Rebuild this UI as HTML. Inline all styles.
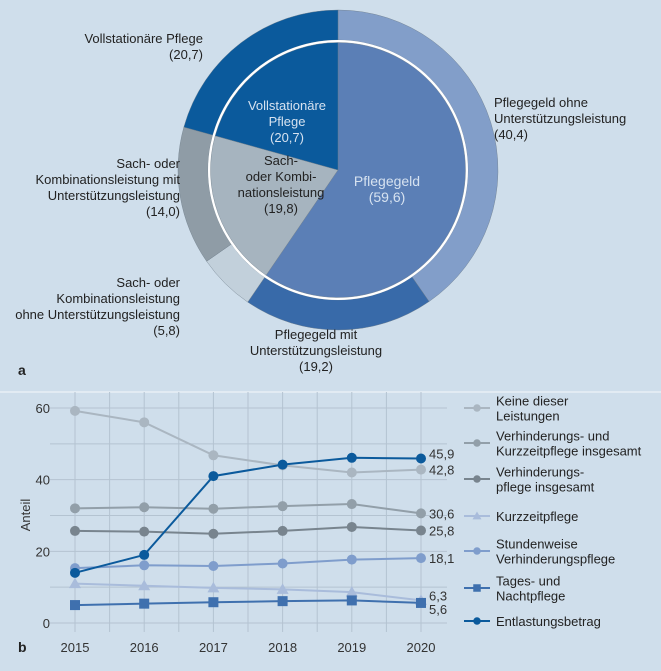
<!DOCTYPE html>
<html><head><meta charset="utf-8"><style>
body{margin:0;background:#cfdeeb;}
svg{display:block;font-family:"Liberation Sans",sans-serif;}
</style></head><body>
<svg width="661" height="671" viewBox="0 0 661 671">
<rect x="0" y="0" width="661" height="671" fill="#cfdeeb"/>
<line x1="0" y1="392" x2="661" y2="392" stroke="#e2ebf3" stroke-width="2"/>
<g id="pie"></g>
<g id="pielabels" font-size="13" fill="#222">
<text x="203" y="43" text-anchor="end">Vollstationäre Pflege</text>
<text x="203" y="59" text-anchor="end">(20,7)</text>
<text x="494" y="107">Pflegegeld ohne</text>
<text x="494" y="123">Unterstützungsleistung</text>
<text x="494" y="139">(40,4)</text>
<text x="180" y="168" text-anchor="end">Sach- oder</text>
<text x="180" y="184" text-anchor="end">Kombinationsleistung mit</text>
<text x="180" y="200" text-anchor="end">Unterstützungsleistung</text>
<text x="180" y="216" text-anchor="end">(14,0)</text>
<text x="180" y="287" text-anchor="end">Sach- oder</text>
<text x="180" y="303" text-anchor="end">Kombinationsleistung</text>
<text x="180" y="319" text-anchor="end">ohne Unterstützungsleistung</text>
<text x="180" y="335" text-anchor="end">(5,8)</text>
<text x="316" y="339" text-anchor="middle">Pflegegeld mit</text>
<text x="316" y="355" text-anchor="middle">Unterstützungsleistung</text>
<text x="316" y="371" text-anchor="middle">(19,2)</text>
<text x="287" y="110" text-anchor="middle" fill="#d6e2f0">Vollstationäre</text>
<text x="287" y="126" text-anchor="middle" fill="#d6e2f0">Pflege</text>
<text x="287" y="142" text-anchor="middle" fill="#d6e2f0">(20,7)</text>
<text x="281" y="165" text-anchor="middle">Sach-</text>
<text x="281" y="181" text-anchor="middle">oder Kombi-</text>
<text x="281" y="197" text-anchor="middle">nationsleistung</text>
<text x="281" y="213" text-anchor="middle">(19,8)</text>
<text x="387" y="186" text-anchor="middle" fill="#d6e2f0" font-size="14">Pflegegeld</text>
<text x="387" y="202" text-anchor="middle" fill="#d6e2f0" font-size="14">(59,6)</text>
</g>
<text x="18" y="375" font-size="14" font-weight="bold" fill="#222">a</text>
<text x="18" y="652" font-size="14" font-weight="bold" fill="#222">b</text>
<g id="line"></g>
</svg>
<script>
const NS="http://www.w3.org/2000/svg";
function mk(tag,attrs,parent){const e=document.createElementNS(NS,tag);for(const k in attrs)e.setAttribute(k,attrs[k]);parent.appendChild(e);return e;}
// ---- pie data ----
const innerNames=["Pflegegeld","Sach- oder Kombinationsleistung","Vollstationäre Pflege"];
const innerValues=[59.6,19.8,20.7];
const innerColors=["#5b7fb6","#a6b4bf","#0b5a9c"];
const outerNames=["Pflegegeld ohne","Pflegegeld mit","Sach ohne","Sach mit","Vollstationär"];
const outerValues=[40.4,19.2,5.8,14.0,20.7];
const outerColors=["#829ec9","#386aa9","#c2d0db","#8f9ca6","#0b5a9c"];
const cx=338,cy=170;
const pie=document.getElementById('pie');
function arcPath(r0,r1,a0,a1){
  const p=(r,a)=>[cx+r*Math.sin(a),cy-r*Math.cos(a)];
  const large=(a1-a0)>Math.PI?1:0;
  const [x0,y0]=p(r1,a0),[x1,y1]=p(r1,a1);
  if(r0===0) return `M${cx},${cy}L${x0},${y0}A${r1},${r1} 0 ${large} 1 ${x1},${y1}Z`;
  const [x2,y2]=p(r0,a1),[x3,y3]=p(r0,a0);
  return `M${x0},${y0}A${r1},${r1} 0 ${large} 1 ${x1},${y1}L${x2},${y2}A${r0},${r0} 0 ${large} 0 ${x3},${y3}Z`;
}
function drawRing(vals,cols,r0,r1,name){
  const tot=vals.reduce((a,b)=>a+b,0);let a=0;
  vals.forEach((v,i)=>{const a1=a+v/tot*2*Math.PI;
    const p=mk('path',{d:arcPath(r0,r1,a,a1),fill:cols[i],stroke:'#6f7e8a','stroke-width':0.4},pie);
    
    
    a=a1;});
}
drawRing(outerValues,outerColors,130,160,'outer');
const wc=mk('circle',{cx:cx,cy:cy,r:130,fill:'#ffffff'},pie);


drawRing(innerValues,innerColors,0,127.5,'inner');
// ---- line chart data ----
const years=["2015","2016","2017","2018","2019","2020"];
const yTicks=[0,20,40,60];
const sKeine=[59.2,56.0,46.8,44.0,42.0,42.8];
const sVerhKurz=[32.0,32.3,31.9,32.6,33.2,30.6];
const sVerh=[25.7,25.5,24.9,25.7,26.8,25.8];
const sKurz=[11.0,10.4,9.8,9.4,8.6,6.3];
const sStund=[15.3,16.1,15.9,16.6,17.7,18.1];
const sTages=[5.0,5.4,5.8,6.1,6.3,5.6];
const sEntl=[14.0,19.0,41.0,44.2,46.1,45.9];
const endLabels=["42,8","30,6","25,8","6,3","18,1","5,6","45,9"];
const seriesNames=["Keine dieser|Leistungen","Verhinderungs- und|Kurzzeitpflege insgesamt","Verhinderungs-|pflege insgesamt","Kurzzeitpflege","Stundenweise|Verhinderungspflege","Tages- und|Nachtpflege","Entlastungsbetrag"];
const series=[sKeine,sVerhKurz,sVerh,sKurz,sStund,sTages,sEntl];
const colors=["#aab6c1","#929fa9","#78848e","#a9bcdb","#7f9dcc","#3f70ae","#0b5a9c"];
const markers=["c","c","c","t","c","s","c"];
const X0=75,X1=421,Y0=623,Y60=408;
const xs=i=>X0+i*(X1-X0)/(years.length-1);
const ys=v=>Y0-(v/60)*(Y0-Y60);
const g=document.getElementById('line');
for(let v=0;v<=60;v+=10){const l=mk('line',{x1:50,x2:447,y1:ys(v),y2:ys(v),stroke:'#b4c3d1','stroke-width':1},g);
  }
for(let i=-0.5;i<=years.length-0.5;i+=0.5){const x=xs(i);if(x<50||x>447)continue;
  const l=mk('line',{x1:x,x2:x,y1:392,y2:632,stroke:'#b4c3d1','stroke-width':1},g);
  }
yTicks.forEach(v=>{const t=mk('text',{x:50,y:ys(v)+5,'text-anchor':'end','font-size':13,fill:'#333'},g);t.textContent=v;
  });
years.forEach((y,i)=>{const t=mk('text',{x:xs(i),y:652,'text-anchor':'middle','font-size':13,fill:'#333'},g);t.textContent=y;
  });
const at=mk('text',{x:0,y:0,transform:`translate(30,515) rotate(-90)`,'text-anchor':'middle','font-size':13,fill:'#333'},g);at.textContent="Anteil";

function marker(type,x,y,c,parent,s){
  let m;
  if(type==='c') m=mk('circle',{cx:x,cy:y,r:5*s,fill:c},parent);
  else if(type==='s') m=mk('rect',{x:x-5*s,y:y-5*s,width:10*s,height:10*s,fill:c},parent);
  else m=mk('path',{d:`M${x},${y-6*s}L${x+6*s},${y+4.5*s}L${x-6*s},${y+4.5*s}Z`,fill:c},parent);
  return m;
}
series.forEach((s,k)=>{
  const pl=mk('polyline',{points:s.map((v,i)=>xs(i)+','+ys(v)).join(' '),fill:'none',stroke:colors[k],'stroke-width':2},g);
  
  s.forEach((v,i)=>{const m=marker(markers[k],xs(i),ys(v),colors[k],g,1);
    });
});
// end labels
const labelShift=[5,5,5,0,5,11,0];
series.forEach((s,k)=>{const y=ys(s[s.length-1])+labelShift[k];
  const t=mk('text',{x:429,y:y,'font-size':13,fill:'#333'},g);t.textContent=endLabels[k];
  });
// legend
const legY=[408,443,479,516,551,588,621];
seriesNames.forEach((n,k)=>{
  const lg=mk('g',{},g);
  mk('line',{x1:464,x2:490,y1:legY[k],y2:legY[k],stroke:colors[k],'stroke-width':2},lg);
  marker(markers[k],477,legY[k],colors[k],lg,0.75);
  const parts=n.split('|');
  parts.forEach((p,j)=>{const t=mk('text',{x:496,y:legY[k]+5+(j-(parts.length-1)/2)*15,'font-size':13,fill:'#222'},lg);t.textContent=p;});
});
</script>
</body></html>
